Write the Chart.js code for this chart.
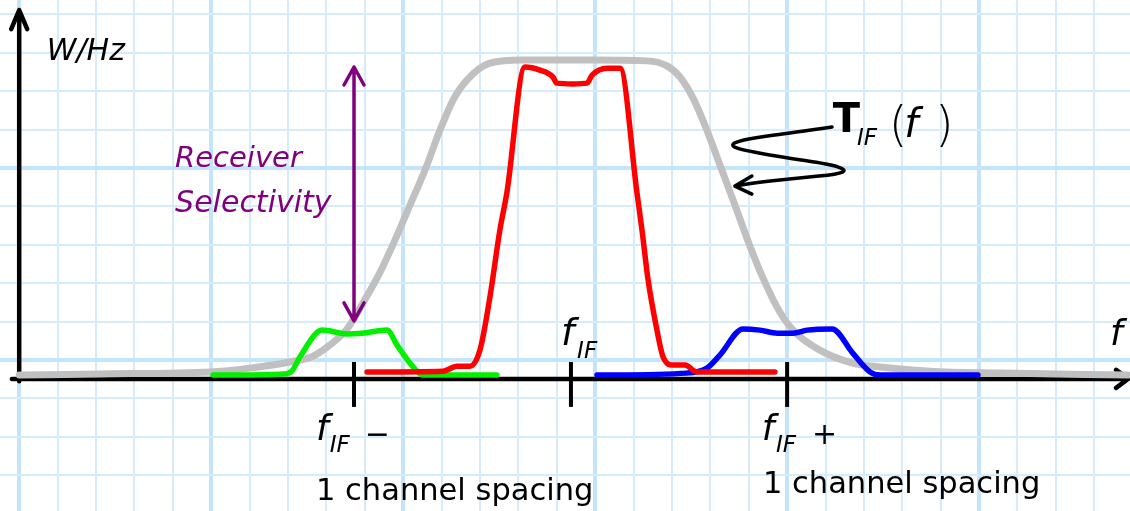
<!DOCTYPE html>
<html>
<head>
<meta charset="utf-8">
<script src="https://cdn.jsdelivr.net/npm/chart.js@4/dist/chart.umd.min.js"></script>
<style>
  html, body { margin: 0; padding: 0; background: #fff; }
  #box { width: 1130px; height: 511px; }
</style>
</head>
<body>
<div id="box"><canvas id="ifChart"></canvas></div>
<script>
// all values in squares of the graph paper (x: frequency, y: W/Hz)

// IF filter response T_IF(f)
var tifFreq  = [0, 2.10, 5.00, 6.01, 7.05, 7.65, 8.09, 8.54, 8.95, 9.40, 9.79, 10.18, 10.57, 10.96, 11.30, 11.66, 12.26, 13.11, 14.86, 16.35, 16.87, 17.21, 17.55, 17.89, 18.25, 18.64, 19.00, 19.37, 19.81, 20.20, 20.85, 21.71, 22.42, 23.72, 25.54, 28.88];
var tifLevel = [-0.39, -0.36, -0.31, -0.21, -0.05, 0.10, 0.39, 0.81, 1.48, 2.29, 3.13, 4.04, 4.95, 5.99, 6.77, 7.29, 7.73, 7.81, 7.81, 7.79, 7.66, 7.37, 6.82, 6.04, 5.08, 4.04, 3.05, 2.14, 1.25, 0.73, 0.26, -0.08, -0.18, -0.29, -0.34, -0.39];

// wanted channel (centre)
var redFreq  = [9.06, 11.04, 11.40, 11.74, 12.00, 12.26, 12.52, 12.70, 13.17, 13.56, 13.90, 14.00, 14.42, 14.79, 14.92, 15.31, 15.65, 16.09, 16.22, 16.38, 16.61, 16.77, 17.03, 17.34, 17.65, 19.68];
var redLevel = [-0.31, -0.29, -0.16, -0.16, 0.26, 1.64, 3.39, 4.35, 7.63, 7.55, 7.37, 7.21, 7.19, 7.21, 7.42, 7.60, 7.60, 4.35, 3.39, 2.08, 0.78, 0.08, -0.13, -0.13, -0.31, -0.31];

// lower adjacent channel
var greenFreq  = [5.05, 6.92, 7.10, 7.31, 7.89, 8.54, 8.93, 9.58, 9.84, 10.26, 10.51, 12.44];
var greenLevel = [-0.39, -0.36, -0.29, 0.08, 0.78, 0.68, 0.70, 0.78, 0.39, -0.18, -0.39, -0.39];

// upper adjacent channel
var blueFreq  = [15.05, 17.39, 17.91, 18.25, 18.85, 19.29, 19.74, 20.15, 20.52, 21.17, 21.71, 22.16, 22.42, 24.97];
var blueLevel = [-0.39, -0.34, -0.21, 0.13, 0.81, 0.78, 0.70, 0.70, 0.78, 0.81, 0.18, -0.31, -0.39, -0.39];

// tick marks on the f axis: f_IF - 1 spacing, f_IF, f_IF + 1 spacing
var tickFreq = [8.72, 14.37, 20.00];

function toPoints(xs, ys) {
    return xs.map(function (x, i) { return { x: x, y: ys[i] }; });
}

function intTicks(scale) {
    var t = [];
    for (var v = Math.ceil(scale.min); v <= Math.floor(scale.max); v++) t.push({ value: v });
    scale.ticks = t;
}

var paperGrid = {
    drawTicks: false,
    color: function (c) { return c.tick.value % 5 === 0 ? '#c4e4fa' : '#d4ecfc'; },
    lineWidth: function (c) { return c.tick.value % 5 === 0 ? 4 : 2; }
};

var FONT = "'DejaVu Sans', sans-serif";

var sketchPlugin = {
    id: 'sketch',
    beforeDatasetsDraw: function (chart) {
        var c = chart.ctx, sx = chart.scales.x, sy = chart.scales.y;
        var X = function (u) { return sx.getPixelForValue(u); };
        var Y = function (v) { return sy.getPixelForValue(v); };
        c.save();
        c.strokeStyle = '#000';
        c.lineWidth = 4.5;
        c.lineCap = 'round';
        c.lineJoin = 'round';
        // vertical axis with arrow
        c.beginPath();
        c.moveTo(X(0), Y(-0.55));
        c.lineTo(X(0), Y(9.11));
        c.moveTo(X(0) - 8, Y(9.11) + 19);
        c.lineTo(X(0), Y(9.11));
        c.lineTo(X(0) + 8, Y(9.11) + 19);
        c.stroke();
        // frequency axis with arrow
        c.beginPath();
        c.moveTo(X(-0.19), Y(-0.49));
        c.lineTo(X(28.88), Y(-0.49));
        c.moveTo(X(28.88) - 12, Y(-0.49) - 9);
        c.lineTo(X(28.88), Y(-0.49));
        c.lineTo(X(28.88) - 12, Y(-0.49) + 9);
        c.stroke();
        // tick marks
        c.lineCap = 'butt';
        c.lineWidth = 4;
        tickFreq.forEach(function (u) {
            c.beginPath();
            c.moveTo(X(u), Y(-0.05));
            c.lineTo(X(u), Y(-1.22));
            c.stroke();
        });
        c.restore();
    },
    afterDatasetsDraw: function (chart) {
        var c = chart.ctx, sx = chart.scales.x, sy = chart.scales.y;
        var X = function (u) { return sx.getPixelForValue(u); };
        var Y = function (v) { return sy.getPixelForValue(v); };
        function text(s, u, v, font, color) {
            c.font = font;
            c.fillStyle = color || '#000';
            c.textAlign = 'left';
            c.textBaseline = 'alphabetic';
            c.fillText(s, X(u), Y(v));
        }
        c.save();
        c.lineCap = 'round';
        c.lineJoin = 'round';

        // receiver selectivity double arrow
        var ax = X(8.72), aTop = Y(7.63), aBot = Y(1.02);
        c.strokeStyle = '#800080';
        c.lineWidth = 3.5;
        c.beginPath();
        c.moveTo(ax, aTop);
        c.lineTo(ax, aBot);
        c.moveTo(ax - 10, aTop + 18);
        c.lineTo(ax, aTop);
        c.lineTo(ax + 10, aTop + 18);
        c.moveTo(ax - 10, aBot - 18);
        c.lineTo(ax, aBot);
        c.lineTo(ax + 10, aBot - 18);
        c.stroke();
        text('Receiver', 4.06, 5.03, 'italic 29px ' + FONT, '#800080');
        text('Selectivity', 4.06, 3.85, 'italic 30px ' + FONT, '#800080');

        // squiggly pointer to the T_IF(f) curve
        var sq = [[21.17, 6.07], [20.07, 5.91], [19.29, 5.81], [18.72, 5.70], [18.54, 5.60], [18.72, 5.49],
                  [19.81, 5.29], [21.11, 5.10], [21.56, 4.95], [21.32, 4.84], [20.33, 4.74], [19.29, 4.64], [18.64, 4.53]];
        var pts = sq.map(function (p) { return [X(p[0]), Y(p[1])]; });
        c.strokeStyle = '#000';
        c.lineWidth = 3.5;
        c.beginPath();
        c.moveTo(pts[0][0], pts[0][1]);
        for (var i = 1; i < pts.length - 1; i++) {
            var mx = (pts[i][0] + pts[i + 1][0]) / 2, my = (pts[i][1] + pts[i + 1][1]) / 2;
            c.quadraticCurveTo(pts[i][0], pts[i][1], mx, my);
        }
        var tip = pts[pts.length - 1];
        c.lineTo(tip[0], tip[1]);
        c.moveTo(tip[0] + 17, tip[1] - 10);
        c.lineTo(tip[0], tip[1]);
        c.lineTo(tip[0] + 17, tip[1] + 8);
        c.stroke();

        // labels
        text('W/Hz', 0.72, 7.81, 'italic 30px ' + FONT);
        text('T', 21.19, 5.94, 'bold 40px ' + FONT);
        text('IF', 21.82, 5.60, 'italic 23px ' + FONT);
        text('(', 22.65, 5.70, '200 48px ' + FONT);
        text('f', 23.05, 5.80, 'italic 40px ' + FONT);
        text(')', 23.85, 5.70, '200 48px ' + FONT);

        text('f', 28.41, 0.39, 'italic 36px ' + FONT);

        text('f', 14.11, 0.39, 'italic 38px ' + FONT);
        text('IF', 14.53, 0.05, 'italic 23px ' + FONT);

        text('f', 7.73, -2.08, 'italic 36px ' + FONT);
        text('IF', 8.09, -2.40, 'italic 23px ' + FONT);
        text('\u2212', 9.00, -2.19, '30px ' + FONT);
        text('1 channel spacing', 7.73, -3.65, '30.5px ' + FONT);

        text('f', 19.34, -2.08, 'italic 36px ' + FONT);
        text('IF', 19.71, -2.40, 'italic 23px ' + FONT);
        text('+', 20.65, -2.19, '30px ' + FONT);
        text('1 channel spacing', 19.37, -3.46, '30.5px ' + FONT);
        c.restore();
    }
};

document.addEventListener('DOMContentLoaded', function () {
    var ctx = document.getElementById('ifChart').getContext('2d');
    var lineStyle = { fill: false, pointRadius: 0, borderCapStyle: 'round', borderJoinStyle: 'round', cubicInterpolationMode: 'monotone' };

    new Chart(ctx, {
        type: 'line',
        data: {
            datasets: [
                Object.assign({ label: 'Wanted channel', data: toPoints(redFreq, redLevel), borderColor: '#ff0000', borderWidth: 5.5 }, lineStyle),
                Object.assign({ label: 'Upper channel', data: toPoints(blueFreq, blueLevel), borderColor: '#0000ff', borderWidth: 5.5 }, lineStyle),
                Object.assign({ label: 'Lower channel', data: toPoints(greenFreq, greenLevel), borderColor: '#00f000', borderWidth: 5.5 }, lineStyle),
                Object.assign({ label: 'T_IF(f)', data: toPoints(tifFreq, tifLevel), borderColor: '#c0c0c0', borderWidth: 7 }, lineStyle)
            ]
        },
        options: {
            responsive: true,
            maintainAspectRatio: false,
            animation: false,
            events: [],
            layout: { padding: 0 },
            plugins: { legend: { display: false }, tooltip: { enabled: false } },
            scales: {
                x: {
                    type: 'linear',
                    min: -0.5,
                    max: 28.93,
                    afterBuildTicks: intTicks,
                    ticks: { display: false },
                    border: { display: false },
                    grid: paperGrid
                },
                y: {
                    type: 'linear',
                    min: -3.93,
                    max: 9.375,
                    afterBuildTicks: intTicks,
                    ticks: { display: false },
                    border: { display: false },
                    grid: paperGrid
                }
            }
        },
        plugins: [sketchPlugin]
    });
});
</script>
</body>
</html>
